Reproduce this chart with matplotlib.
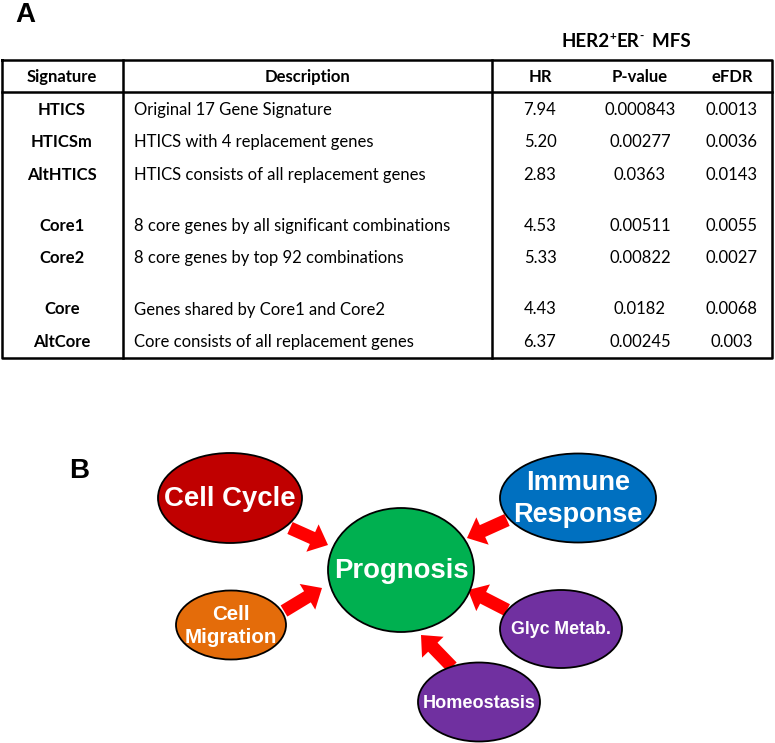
import matplotlib
matplotlib.use("Agg")
import matplotlib.pyplot as plt
from matplotlib.patches import Ellipse, FancyArrow

# ---------------- data ----------------
signatures = ["HTICS", "HTICSm", "AltHTICS", "Core1", "Core2", "Core", "AltCore"]
descriptions = [
    "Original 17 Gene Signature",
    "HTICS with 4 replacement genes",
    "HTICS consists of all replacement genes",
    "8 core genes by all significant combinations",
    "8 core genes by top 92 combinations",
    "Genes shared by Core1 and Core2",
    "Core consists of all replacement genes",
]
hr_values = ["7.94", "5.20", "2.83", "4.53", "5.33", "4.43", "6.37"]
p_values = ["0.000843", "0.00277", "0.0363", "0.00511", "0.00822", "0.0182", "0.00245"]
efdr_values = ["0.0013", "0.0036", "0.0143", "0.0055", "0.0027", "0.0068", "0.003"]
row_groups = [0, 0, 0, 1, 1, 2, 2]
col_headers = ["Signature", "Description", "HR", "P-value", "eFDR"]
title_parts = [("HER2", False), ("+", True), ("ER", False), ("-", True), ("  MFS", False)]

node_labels = ["Cell Cycle", "Immune\nResponse", "Prognosis", "Cell\nMigration",
               "Glyc Metab.", "Homeostasis"]
node_colors = ["#C00000", "#0070C0", "#00B050", "#E46C0A", "#7030A0", "#7030A0"]
arrow_sources = ["Cell Cycle", "Cell\nMigration", "Immune\nResponse", "Glyc Metab.", "Homeostasis"]

# ---------------- layout ----------------
W, H = 775, 743
fig = plt.figure(figsize=(W / 100, H / 100), dpi=100)
ax = fig.add_axes([0, 0, 1, 1])
ax.set_xlim(0, W)
ax.set_ylim(H, 0)
ax.axis('off')
renderer = fig.canvas.get_renderer()

# Panel labels
ax.text(25, 15, "A", fontsize=20, fontweight='bold', family='Liberation Sans',
        ha='center', va='center')
ax.text(79, 471, "B", fontsize=20, fontweight='bold', family='Liberation Sans',
        ha='center', va='center')

# Table frame
left, right, top, bottom = 2, 772, 60, 358
header_line = 92
vcol1, vcol2 = 123, 492
lw = 1.8
ax.plot([left, right, right, left, left], [top, top, bottom, bottom, top], color='black', lw=lw)
ax.plot([left, right], [header_line, header_line], color='black', lw=lw)
ax.plot([vcol1, vcol1], [top, bottom], color='black', lw=lw)
ax.plot([vcol2, vcol2], [top, bottom], color='black', lw=lw)

tfont = 'Lato'
fs = 12

# Title with superscripts, assembled piece by piece (pixel coords == data coords)
title_fs, sup_fs = 13.5, 8.5
title_center, title_y = 626, 47
pieces = []
for txt, sup in title_parts:
    t = ax.text(0, title_y - (7 if sup else 0), txt, fontsize=sup_fs if sup else title_fs,
                fontweight='bold', family=tfont, ha='left', va='baseline')
    pieces.append(t)
widths = [p.get_window_extent(renderer).width for p in pieces]
x = title_center - sum(widths) / 2
for p, wdt in zip(pieces, widths):
    p.set_x(x)
    x += wdt

col_x = [62, 308, 540, 640, 732]
for i, h in enumerate(col_headers):
    ax.text(col_x[i], 77, h, fontsize=fs, fontweight='bold', family=tfont,
            ha='center', va='center')

y0, row_h, gap = 110, 32.3, 19
for i in range(len(signatures)):
    y = y0 + i * row_h + row_groups[i] * gap
    ax.text(col_x[0], y, signatures[i], fontsize=fs, fontweight='bold', family=tfont,
            ha='center', va='center')
    ax.text(134, y, descriptions[i], fontsize=fs, family=tfont, ha='left', va='center')
    ax.text(col_x[2], y, hr_values[i], fontsize=fs, family=tfont, ha='center', va='center')
    ax.text(col_x[3], y, p_values[i], fontsize=fs, family=tfont, ha='center', va='center')
    ax.text(col_x[4], y, efdr_values[i], fontsize=fs, family=tfont, ha='center', va='center')

# Diagram nodes: center x, y, width, height, fontsize
node_geom = {
    "Cell Cycle": (230, 498, 144, 90, 19.8),
    "Immune\nResponse": (578, 498, 156, 89, 19.5),
    "Prognosis": (401, 570, 146, 124, 19.8),
    "Cell\nMigration": (231, 625, 110, 69, 14.8),
    "Glyc Metab.": (561, 629, 122, 78, 12.8),
    "Homeostasis": (479, 702, 122, 79, 13.1),
}
arrow_geom = {
    "Cell Cycle": ((290, 528), (328, 545)),
    "Cell\nMigration": ((284, 611), (322, 588)),
    "Immune\nResponse": ((507, 520), (467, 538)),
    "Glyc Metab.": ((507, 610), (468, 590)),
    "Homeostasis": ((452, 667), (421, 635)),
}

for src in arrow_sources:
    (x1, y1), (x2, y2) = arrow_geom[src]
    arr = FancyArrow(x1, y1, x2 - x1, y2 - y1, width=13, head_width=30,
                     head_length=17, length_includes_head=True,
                     color='#FF0000', lw=0, zorder=1)
    ax.add_patch(arr)

for lab, col in zip(node_labels, node_colors):
    cx, cy, w, h, f = node_geom[lab]
    ax.add_patch(Ellipse((cx, cy), w, h, facecolor=col, edgecolor='black', lw=1.3, zorder=2))
    ax.text(cx, cy + 1, lab, fontsize=f, fontweight='bold', family='Liberation Sans',
            color='white', ha='center', va='center', linespacing=1.3, zorder=3)

fig.savefig("out.png", dpi=100)
